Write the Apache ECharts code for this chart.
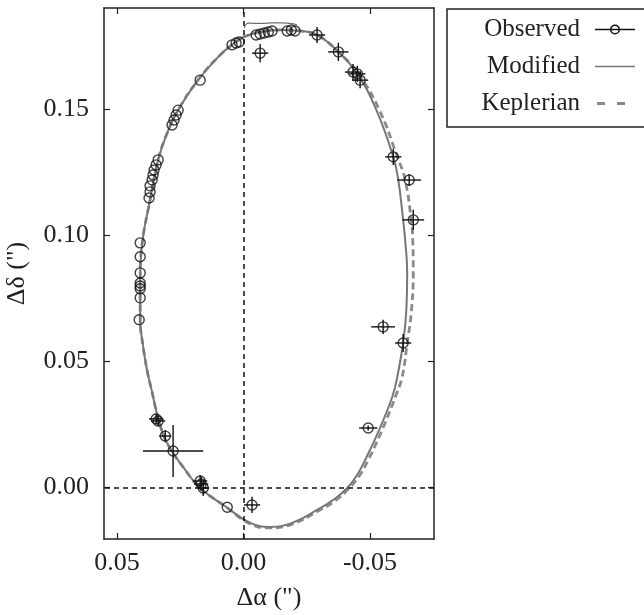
<!DOCTYPE html>
<html>
<head>
<meta charset="utf-8">
<script src="https://cdn.jsdelivr.net/npm/echarts@6/dist/echarts.min.js"></script>
<style>
  html, body { margin: 0; padding: 0; background: #fff; }
  #main { width: 644px; height: 615px; }
</style>
</head>
<body>
<div id="main"></div>
<script>
// axis ticks
var xTicks = [0.05, 0, -0.05];
var yTicks = [0, 0.05, 0.10, 0.15];

// modified orbit
var modAlpha = [0.0001,-0.0066,-0.0145,-0.0224,-0.0291,-0.0375,-0.0450,-0.0525,-0.0592,-0.0612,-0.0631,-0.0639,-0.0647,-0.0643,-0.0631,-0.0608,-0.0588,-0.0536,-0.0481,-0.0449,-0.0410,-0.0355,-0.0291,-0.0192,-0.0106,-0.0027,0.0068,0.0171,0.0230,0.0302,0.0335,0.0363,0.0381,0.0396,0.0408,0.0408,0.0400,0.0369,0.0337,0.0301,0.0258,0.0179,0.0092,0.0041,0.0001];
var modDelta = [0.1785,0.1805,0.1813,0.1809,0.1793,0.1726,0.1639,0.1496,0.1310,0.1218,0.1060,0.0981,0.0850,0.0691,0.0572,0.0437,0.0358,0.0227,0.0108,0.0049,-0.0003,-0.0050,-0.0090,-0.0141,-0.0157,-0.0141,-0.0078,-0.0003,0.0069,0.0176,0.0267,0.0386,0.0465,0.0556,0.0664,0.0822,0.0969,0.1139,0.1298,0.1405,0.1496,0.1615,0.1714,0.1757,0.1785];
// thin arc at the top
var arcAlpha = [-0.0003,-0.0019,-0.0066,-0.0125,-0.0185,-0.0212];
var arcDelta = [0.1820,0.1840,0.1839,0.1841,0.1839,0.1833];

// keplerian orbit
var kepAlpha = [0.0001,-0.0066,-0.0145,-0.0224,-0.0291,-0.0375,-0.0454,-0.0537,-0.0608,-0.0639,-0.0663,-0.0669,-0.0671,-0.0663,-0.0647,-0.0627,-0.0600,-0.0548,-0.0493,-0.0457,-0.0418,-0.0362,-0.0295,-0.0196,-0.0106,-0.0027,0.0068,0.0171,0.0230,0.0302,0.0335,0.0363,0.0381,0.0396,0.0408,0.0408,0.0400,0.0369,0.0337,0.0301,0.0258,0.0179,0.0092,0.0041,0.0001];
var kepDelta = [0.1785,0.1805,0.1813,0.1809,0.1793,0.1726,0.1639,0.1496,0.1310,0.1218,0.1060,0.0981,0.0850,0.0691,0.0572,0.0437,0.0358,0.0227,0.0108,0.0044,-0.0003,-0.0054,-0.0094,-0.0145,-0.0161,-0.0145,-0.0078,-0.0003,0.0069,0.0176,0.0267,0.0386,0.0465,0.0556,0.0664,0.0822,0.0969,0.1139,0.1298,0.1405,0.1496,0.1615,0.1714,0.1757,0.1785];

// observed positions and errors
var obsAlpha = [0.0171,0.0282,0.0274,0.0266,0.0258,0.0337,0.0345,0.0353,0.0357,0.0361,0.0369,0.0369,0.0373,0.0408,0.0408,0.0408,0.0408,0.0408,0.0408,0.0408,0.0412,0.0045,0.0029,0.0017,-0.0050,-0.0066,-0.0082,-0.0098,-0.0113,-0.0173,-0.0189,-0.0204,0.0064,
  -0.0066,-0.0291,-0.0375,-0.0433,-0.0450,-0.0461,-0.0592,-0.0655,-0.0671,-0.0552,-0.0631,-0.0493,0.0345,0.0337,0.0309,0.0278,0.0171,0.0167,0.0159,-0.0034];
var obsDelta = [0.1614,0.1436,0.1456,0.1476,0.1495,0.1298,0.1278,0.1258,0.1238,0.1218,0.1195,0.1171,0.1147,0.0969,0.0914,0.0850,0.0810,0.0798,0.0787,0.0751,0.0664,0.1754,0.1761,0.1765,0.1793,0.1797,0.1801,0.1805,0.1809,0.1809,0.1813,0.1809,-0.0079,
  0.1721,0.1793,0.1726,0.1646,0.1639,0.1614,0.1310,0.1218,0.1060,0.0636,0.0572,0.0235,0.0271,0.0263,0.0203,0.0144,0.0025,0.0013,-0.0003,-0.0070];
var errAlpha = [0,0,0,0,0,0,0,0,0,0,0,0,0,0,0,0,0,0,0,0,0,0,0,0,0,0,0,0,0,0,0,0,0,
  0.0032,0.0032,0.0040,0.0032,0.0032,0.0032,0.0032,0.0047,0.0043,0.0047,0.0032,0.0036,0.0028,0.0028,0.0024,0.0119,0.0028,0.0028,0.0024,0.0032];
var errDelta = [0,0,0,0,0,0,0,0,0,0,0,0,0,0,0,0,0,0,0,0,0,0,0,0,0,0,0,0,0,0,0,0,0,
  0.0036,0.0032,0.0036,0.0032,0.0032,0.0032,0.0032,0.0024,0.0040,0.0028,0.0036,0.0010,0.0020,0.0020,0.0024,0.0103,0.0024,0.0028,0.0032,0.0032];

function zip(a, b) {
  var out = [];
  for (var i = 0; i < a.length; i++) out.push([a[i], b[i]]);
  return out;
}

var obsPoints = zip(obsAlpha, obsDelta);
var barData = [];
for (var i = 0; i < obsAlpha.length; i++) {
  barData.push([obsAlpha[i], obsDelta[i], errAlpha[i], errDelta[i]]);
}

var serif = 'Liberation Serif';
var ink = '#222';

function fmt(v) {
  return v.toFixed(2);
}

var myChart = echarts.init(document.getElementById('main'));

var baseX = {
  type: 'value',
  min: -0.0753,
  max: 0.0551,
  inverse: true,
  splitLine: { show: false },
  axisLine: { show: true, onZero: false, lineStyle: { color: ink, width: 1.5 } },
  axisTick: { show: true, inside: true, length: 6, customValues: xTicks, lineStyle: { color: ink, width: 1.2 } }
};
var baseY = {
  type: 'value',
  min: -0.0205,
  max: 0.190,
  splitLine: { show: false },
  axisLine: { show: true, onZero: false, lineStyle: { color: ink, width: 1.5 } },
  axisTick: { show: true, inside: true, length: 6, customValues: yTicks, lineStyle: { color: ink, width: 1.2 } }
};

var option = {
  animation: false,
  grid: { left: 104, right: 210, top: 8, bottom: 76, containLabel: false, outerBoundsMode: 'none' },
  xAxis: [
    echarts.util.merge({
      position: 'bottom',
      name: 'Δα (")',
      nameLocation: 'middle',
      nameGap: 46,
      nameTextStyle: { fontFamily: serif, fontSize: 26, color: ink },
      axisLabel: { show: true, customValues: xTicks, margin: 11, formatter: fmt,
        fontFamily: serif, fontSize: 26, color: ink }
    }, baseX, true),
    echarts.util.merge({ position: 'top', axisLabel: { show: false } }, baseX, true)
  ],
  yAxis: [
    echarts.util.merge({
      position: 'left',
      name: 'Δδ (")',
      nameLocation: 'middle',
      nameGap: 74,
      nameTextStyle: { fontFamily: serif, fontSize: 26, color: ink },
      axisLabel: { show: true, customValues: yTicks, margin: 15, formatter: fmt,
        fontFamily: serif, fontSize: 26, color: ink }
    }, baseY, true),
    echarts.util.merge({ position: 'right', axisLabel: { show: false } }, baseY, true)
  ],
  legend: {
    orient: 'vertical',
    left: 447,
    top: 9,
    align: 'right',
    padding: [8, 15, 11, 5],
    itemGap: 12,
    itemWidth: 40,
    itemHeight: 10,
    borderColor: ink,
    borderWidth: 1.5,
    textStyle: { fontFamily: serif, fontSize: 25, color: ink, lineHeight: 24,
      width: 128, align: 'right', padding: [0, 10, 0, 0] },
    data: [
      { name: 'Observed',
        icon: 'path://M0 9.2L40 9.2L40 10.8L0 10.8Z M20 5A5 5 0 1 1 19.99 5Z M20 6.5A3.5 3.5 0 1 0 20.01 6.5Z',
        itemStyle: { color: '#111', borderWidth: 0, opacity: 1 } },
      { name: 'Modified',
        icon: 'path://M0 9.2L40 9.2L40 10.8L0 10.8Z M0 5L0.01 5L0.01 5.01Z M0 15L0.01 15L0.01 14.99Z',
        itemStyle: { color: '#777', borderWidth: 0, opacity: 1 } },
      { name: 'Keplerian',
        icon: 'path://M2 8.6L10 8.6L10 11.4L2 11.4Z M22 8.6L30 8.6L30 11.4L22 11.4Z M0 5L0.01 5L0.01 5.01Z M40 15L39.99 15L39.99 14.99Z',
        itemStyle: { color: '#888', borderWidth: 0, opacity: 1 } }
    ]
  },
  series: [
    {
      name: 'Keplerian',
      type: 'line',
      data: zip(kepAlpha, kepDelta),
      smooth: 0.45,
      symbol: 'none',
      z: 2,
      lineStyle: { color: '#8a8a8a', width: 2.8, type: [7, 4] },
      itemStyle: { color: '#8a8a8a' }
    },
    {
      name: 'Modified',
      type: 'line',
      data: zip(modAlpha, modDelta),
      smooth: 0.45,
      symbol: 'none',
      z: 3,
      lineStyle: { color: '#777', width: 2 },
      itemStyle: { color: '#777' }
    },
    {
      name: 'Modified',
      type: 'line',
      data: zip(arcAlpha, arcDelta),
      smooth: true,
      symbol: 'none',
      z: 3,
      lineStyle: { color: '#444', width: 1 },
      itemStyle: { color: '#777' }
    },
    {
      name: 'bars',
      type: 'custom',
      z: 4,
      data: barData,
      renderItem: function (params, api) {
        var x = api.value(0), y = api.value(1), ex = api.value(2), ey = api.value(3);
        var kids = [];
        var st = { stroke: '#111', lineWidth: 1.4 };
        if (ex > 0) {
          var a = api.coord([x - ex, y]), b = api.coord([x + ex, y]);
          kids.push({ type: 'line', shape: { x1: a[0], y1: a[1], x2: b[0], y2: b[1] }, style: st });
        }
        if (ey > 0) {
          var c = api.coord([x, y - ey]), d = api.coord([x, y + ey]);
          kids.push({ type: 'line', shape: { x1: c[0], y1: c[1], x2: d[0], y2: d[1] }, style: st });
        }
        return { type: 'group', children: kids };
      },
      markLine: {
        silent: true,
        symbol: ['none', 'none'],
        label: { show: false },
        lineStyle: { color: '#111', width: 1.5, type: [5, 4] },
        data: [{ xAxis: 0 }, { yAxis: 0 }]
      }
    },
    {
      name: 'Observed',
      type: 'scatter',
      data: obsPoints,
      symbol: 'circle',
      symbolSize: 10,
      z: 5,
      itemStyle: { color: 'rgba(255,255,255,0)', borderColor: '#111', borderWidth: 1.4 }
    }
  ]
};

myChart.setOption(option);
</script>
</body>
</html>
